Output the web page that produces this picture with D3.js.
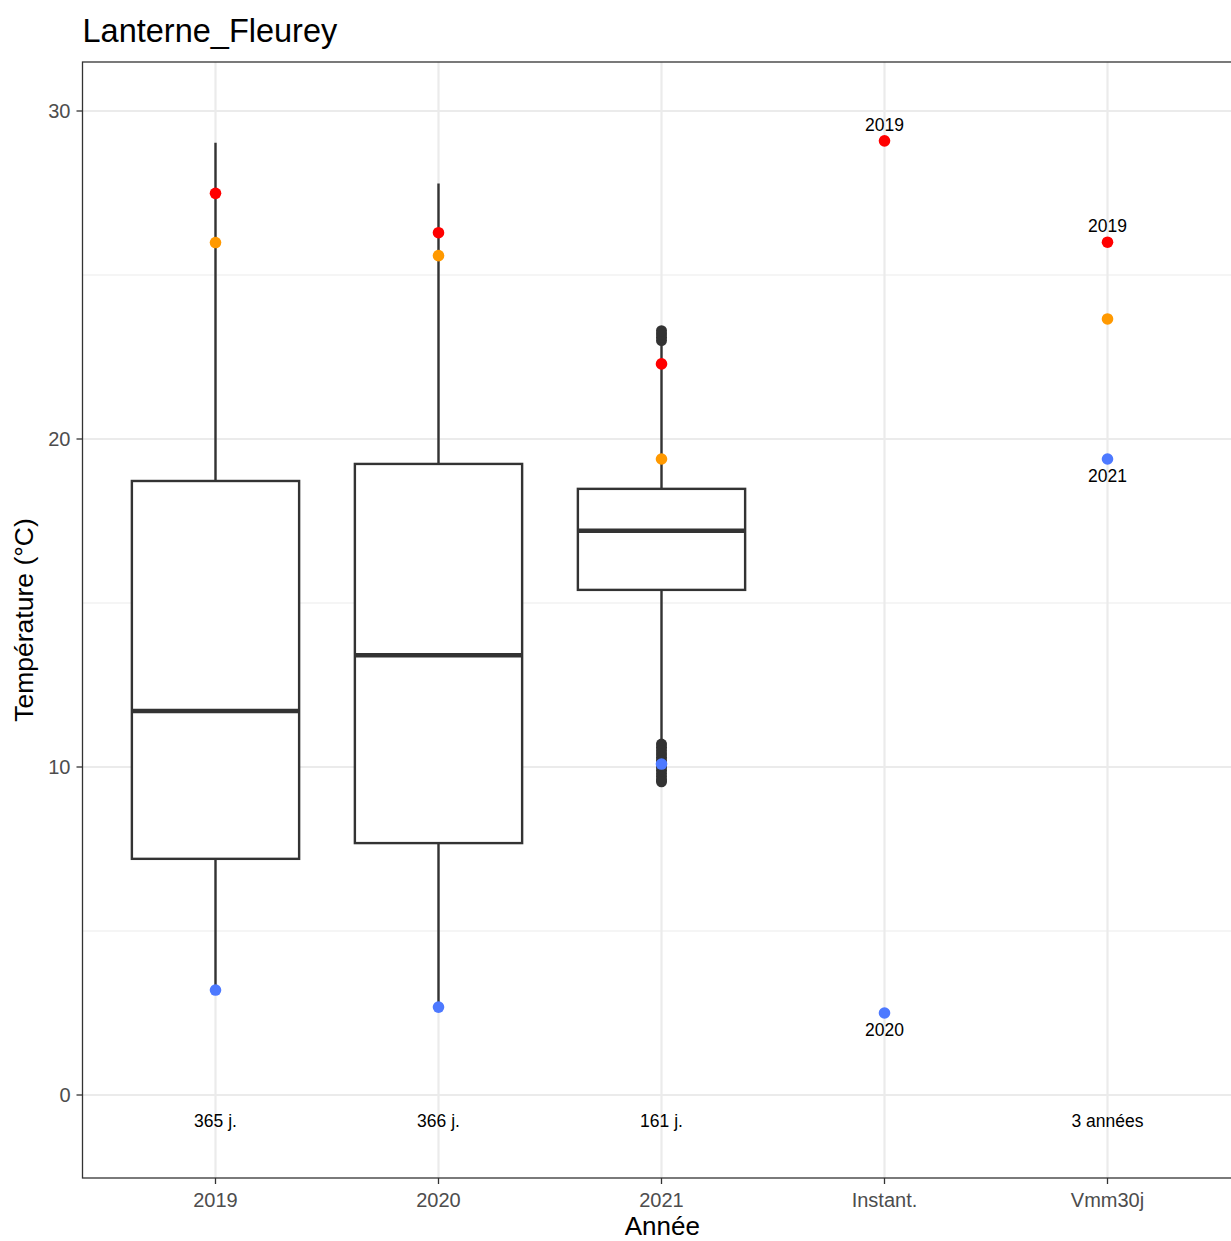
<!DOCTYPE html>
<html><head><meta charset="utf-8">
<script src="https://cdn.jsdelivr.net/npm/d3@7"></script>
<style>body{margin:0;background:#fff;} svg{display:block;font-family:"Liberation Sans",Arial,sans-serif;}</style>
</head><body>
<script>
const categories = ["2019","2020","2021","Instant.","Vmm30j"];
const boxYears = ["2019","2020","2021"];
const q1 = [7.2, 7.68, 15.4];
const medians = [11.71, 13.41, 17.2];
const q3 = [18.72, 19.24, 18.48];
const whiskerLow = [3.2, 2.68, 10.8];
const whiskerHigh = [29.03, 27.79, 22.93];
const outliers2021 = [23.0, 23.1, 23.2, 23.3, 10.7, 10.6, 10.5, 10.4, 10.3, 10.2, 10.1, 10.0, 9.9, 9.8, 9.7, 9.6, 9.55];
const redValues = [27.49, 26.29, 22.29, 29.09, 26.0];
const orangeValues = [25.99, 25.59, 19.39, null, 23.66];
const blueValues = [3.2, 2.68, 10.09, 2.5, 19.39];
const redLabels = ["", "", "", "2019", "2019"];
const blueLabels = ["", "", "", "2020", "2021"];
const countLabels = ["365 j.", "366 j.", "161 j.", "", "3 années"];
const yTicks = [0, 10, 20, 30];
const yMinor = [5, 15, 25];
const title = "Lanterne_Fleurey";

const W = 1231, H = 1241;
const svg = d3.select("body").append("svg").attr("width", W).attr("height", H);
const pL = 82.5, pT = 62, pB = 1178;
const step = 223;
const pR = pL + step * 5.2;

const x = d3.scalePoint().domain(categories).range([pL + step*0.6 - 0.8, pR - step*0.6 - 0.8]);
const y = d3.scaleLinear().domain([0, 30]).range([1095, 111]);

const grid = svg.append("g");
grid.selectAll(".ymin").data(yMinor).join("line")
  .attr("x1", pL).attr("x2", pR).attr("y1", d => y(d)).attr("y2", d => y(d))
  .attr("stroke", "#ebebeb").attr("stroke-width", 1.1);
grid.selectAll(".ymaj").data(yTicks).join("line")
  .attr("x1", pL).attr("x2", pR).attr("y1", d => y(d)).attr("y2", d => y(d))
  .attr("stroke", "#ebebeb").attr("stroke-width", 2.2);
grid.selectAll(".xmaj").data(categories).join("line")
  .attr("x1", d => x(d)).attr("x2", d => x(d)).attr("y1", pT).attr("y2", pB)
  .attr("stroke", "#ebebeb").attr("stroke-width", 2.2);

const boxW = step * 0.75;
const col = "#333333";
const bx = svg.append("g");
boxYears.forEach((c, i) => {
  const cx = x(c);
  bx.append("line").attr("x1", cx).attr("x2", cx).attr("y1", y(q3[i])).attr("y2", y(whiskerHigh[i]))
    .attr("stroke", col).attr("stroke-width", 2.4);
  bx.append("line").attr("x1", cx).attr("x2", cx).attr("y1", y(q1[i])).attr("y2", y(whiskerLow[i]))
    .attr("stroke", col).attr("stroke-width", 2.4);
  bx.append("rect").attr("x", cx - boxW/2).attr("width", boxW)
    .attr("y", y(q3[i])).attr("height", y(q1[i]) - y(q3[i]))
    .attr("fill", "#fff").attr("stroke", col).attr("stroke-width", 2.4);
  bx.append("line").attr("x1", cx - boxW/2).attr("x2", cx + boxW/2).attr("y1", y(medians[i])).attr("y2", y(medians[i]))
    .attr("stroke", col).attr("stroke-width", 4.5);
});
bx.selectAll(".out").data(outliers2021).join("circle")
  .attr("cx", x("2021")).attr("cy", d => y(d)).attr("r", 5.5).attr("fill", col);

const pts = svg.append("g");
function drawPts(vals, color) {
  categories.forEach((c, i) => {
    if (vals[i] == null) return;
    pts.append("circle").attr("cx", x(c)).attr("cy", y(vals[i])).attr("r", 5.8).attr("fill", color);
  });
}
drawPts(orangeValues, "#FF9900");
drawPts(redValues, "#FF0000");
drawPts(blueValues, "#4D79FF");

const txt = svg.append("g").attr("font-size", 17.5).attr("fill", "#000").attr("text-anchor", "middle");
categories.forEach((c, i) => {
  if (redLabels[i]) txt.append("text").attr("x", x(c)).attr("y", y(redValues[i]) - 10).text(redLabels[i]);
  if (blueLabels[i]) txt.append("text").attr("x", x(c)).attr("y", y(blueValues[i]) + 23).text(blueLabels[i]);
  if (countLabels[i]) txt.append("text").attr("x", x(c)).attr("y", y(-0.79)).attr("dy", "0.35em").text(countLabels[i]);
});

svg.append("rect").attr("x", pL).attr("y", pT).attr("width", pR - pL).attr("height", pB - pT)
  .attr("fill", "none").attr("stroke", col).attr("stroke-width", 1.3);

// axes
const ax = svg.append("g");
yTicks.forEach(t => {
  ax.append("line").attr("x1", pL - 6).attr("x2", pL).attr("y1", y(t)).attr("y2", y(t)).attr("stroke", col).attr("stroke-width", 1.3);
  ax.append("text").attr("x", pL - 12).attr("y", y(t)).attr("dy", "0.36em").attr("text-anchor", "end")
    .attr("font-size", 20).attr("fill", "#4d4d4d").text(t);
});
categories.forEach(c => {
  ax.append("line").attr("x1", x(c)).attr("x2", x(c)).attr("y1", pB).attr("y2", pB + 6).attr("stroke", col).attr("stroke-width", 1.3);
  ax.append("text").attr("x", x(c)).attr("y", pB + 29).attr("text-anchor", "middle")
    .attr("font-size", 20).attr("fill", "#4d4d4d").text(c);
});
svg.append("text").attr("x", (pL + pR)/2).attr("y", 1235).attr("text-anchor", "middle")
  .attr("font-size", 26).attr("fill", "#000").text("Année");
svg.append("text").attr("transform", `translate(33,${(pT+pB)/2}) rotate(-90)`).attr("text-anchor", "middle")
  .attr("font-size", 26.5).attr("fill", "#000").text("Température (°C)");
svg.append("text").attr("x", pL).attr("y", 42).attr("font-size", 32.5).attr("fill", "#000").text(title);
</script>
</body></html>
